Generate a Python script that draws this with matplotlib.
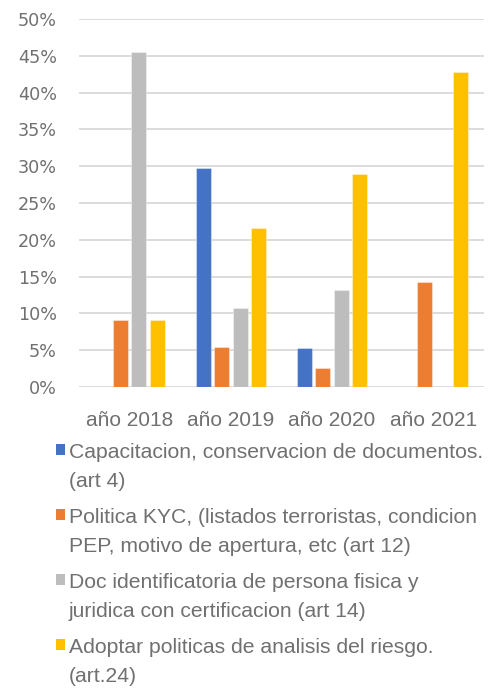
import matplotlib
matplotlib.use("Agg")
import matplotlib.pyplot as plt
from matplotlib.patches import Rectangle
import numpy as np

categories = ["año 2018", "año 2019", "año 2020", "año 2021"]
series_names = [
    ["Capacitacion, conservacion de documentos.", "(art 4)"],
    ["Politica KYC, (listados terroristas, condicion", "PEP, motivo de apertura, etc (art 12)"],
    ["Doc identificatoria de persona fisica y", "juridica con certificacion (art 14)"],
    ["Adoptar politicas de analisis del riesgo.", "(art.24)"],
]
capacitacion = [0.0, 0.297, 0.0526, 0.0]
politica_kyc = [0.0909, 0.054, 0.0263, 0.1429]
doc_ident = [0.4545, 0.108, 0.1316, 0.0]
adoptar = [0.0909, 0.216, 0.2895, 0.4286]
series_values = [capacitacion, politica_kyc, doc_ident, adoptar]
colors = ["#4472C4", "#ED7D31", "#BDBDBD", "#FFC000"]
yticks = [0, 0.05, 0.10, 0.15, 0.20, 0.25, 0.30, 0.35, 0.40, 0.45, 0.50]
ytick_labels = ["0%", "5%", "10%", "15%", "20%", "25%", "30%", "35%", "40%", "45%", "50%"]

text_color = "#707070"
W, H = 491, 691
fig = plt.figure(figsize=(W / 100, H / 100), dpi=100)
ax = fig.add_axes([79 / W, 1 - 387 / H, (484 - 79) / W, (387 - 19) / H])

x = np.arange(len(categories))
slot = 0.181
bw = 0.148
for i, (vals, c) in enumerate(zip(series_values, colors)):
    ax.bar(x + (i - 1.5) * slot, vals, width=bw, color=c, zorder=3,
           edgecolor=(1, 1, 1, 0.35), linewidth=0.8)

ax.set_xlim(-0.5, len(categories) - 0.5)
ax.set_ylim(0, 0.5)
ax.set_yticks(yticks)
ax.set_yticklabels(ytick_labels, fontfamily="DejaVu Sans", fontsize=12.7, color=text_color)
ax.set_xticks(x)
ax.set_xticklabels(categories, fontfamily="Liberation Sans", fontsize=15, color=text_color)
ax.tick_params(axis="y", length=0, pad=16)
ax.tick_params(axis="x", length=0, pad=17)
ax.grid(axis="y", color="#D9D9D9", linewidth=1.3, zorder=0)
ax.set_axisbelow(True)
for s in ax.spines.values():
    s.set_visible(False)

# legend drawn manually
baselines = [[458, 487], [523, 552], [588, 617], [653, 682]]
for names, c, bl in zip(series_names, colors, baselines):
    sq = Rectangle((56 / W, 1 - (bl[0] - 3) / H), 9 / W, 11 / H,
                   transform=fig.transFigure, facecolor=c, edgecolor="none")
    fig.patches.append(sq)
    for line, b in zip(names, bl):
        fig.text(69 / W, 1 - b / H, line, fontfamily="Liberation Sans", fontsize=15.2,
                 color=text_color, ha="left", va="baseline")

fig.savefig("out.png", dpi=100)
